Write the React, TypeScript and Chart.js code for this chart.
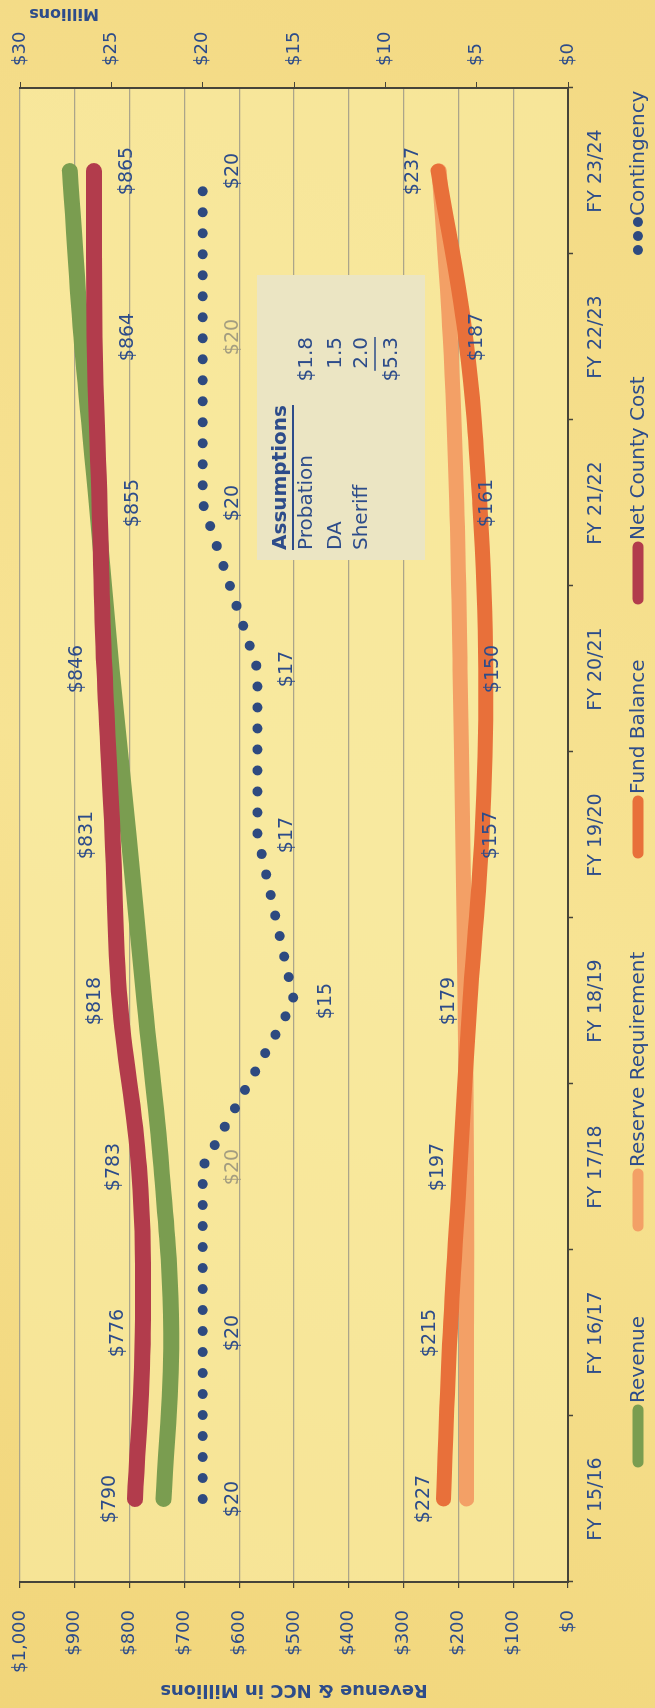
import React, { useEffect, useRef } from 'react';
import { Chart, registerables } from 'chart.js';

Chart.register(...registerables);

// ---------- data ----------
const categories = ['FY 15/16', 'FY 16/17', 'FY 17/18', 'FY 18/19', 'FY 19/20', 'FY 20/21', 'FY 21/22', 'FY 22/23', 'FY 23/24'];
const revenue = [738, 724, 742, 773, 802, 833, 860, 888, 909];
const netCountyCost = [790, 776, 783, 818, 831, 846, 855, 864, 865];
const fundBalance = [227, 215, 197, 179, 157, 150, 161, 187, 237];
const reserveRequirement = [185, 185, 185, 188, 192, 197, 203, 215, 235];
const contingency = [20, 20, 20, 15, 17, 17, 20, 20, 20];

const leftAxisMax = 1000;
const leftAxisStep = 100;
const rightAxisMax = 30;
const rightAxisStep = 5;

const leftAxisTitle = 'Revenue & NCC in Millions';
const rightAxisTitle = 'Millions';

const assumptionsTitle = 'Assumptions';
const assumptionNames = ['Probation', 'DA', 'Sheriff'];
const assumptionAmounts = ['$1.8', '1.5', '2.0'];
const assumptionTotal = '$5.3';

// ---------- style ----------
const W = 1708;
const H = 655;
const FONT = "'DejaVu Sans', sans-serif";
const NAVY = '#2d4c8a';
const GREEN = '#7a9d50';
const RED = '#b23c4c';
const DARK_ORANGE = '#e8703a';
const LIGHT_ORANGE = '#f3a066';
const DOTS = '#2e4a80';
const AXIS = '#46443a';
const GRID = '#aba58a';
const FADED = '#a39d80';

const nccOffsets = [-25, -25, -25, -25, -26, -27, 34, 34, 33];
const fbOffsets = [-20, -20, -22, -21, 9, 7, 7, 12, -25];
const contOffsets = [30, 30, 30, 32, 30, 30, 30, 30, 30];
const contColors = [NAVY, NAVY, FADED, NAVY, NAVY, NAVY, NAVY, FADED, NAVY];

const legendItems = [
  { label: 'Revenue', color: GREEN, x: 241, kind: 'line' },
  { label: 'Reserve Requirement', color: LIGHT_ORANGE, x: 477, kind: 'line' },
  { label: 'Fund Balance', color: DARK_ORANGE, x: 850, kind: 'line' },
  { label: 'Net County Cost', color: RED, x: 1104, kind: 'line' },
  { label: 'Contingency', color: DOTS, x: 1452, kind: 'dots' },
];

const backgroundPlugin = {
  id: 'paper',
  beforeDraw(chart: any) {
    const { ctx, chartArea } = chart;
    ctx.save();
    const g = ctx.createLinearGradient(0, 0, W, H);
    g.addColorStop(0, '#f1d57a');
    g.addColorStop(0.5, '#f7e393');
    g.addColorStop(1, '#f3d983');
    ctx.fillStyle = g;
    ctx.fillRect(0, 0, W, H);
    ctx.fillStyle = 'rgba(250, 238, 170, 0.55)';
    ctx.fillRect(chartArea.left, chartArea.top, chartArea.right - chartArea.left, chartArea.bottom - chartArea.top);
    ctx.restore();
  },
};

function drawLabels(chart: any, dsIndex: number, values: number[], offsets: number[], colors: string[] | null, fmt: (v: number) => string) {
  const ctx = chart.ctx;
  const meta = chart.getDatasetMeta(dsIndex);
  ctx.save();
  ctx.font = `19px ${FONT}`;
  ctx.textAlign = 'center';
  ctx.textBaseline = 'middle';
  meta.data.forEach((pt: any, i: number) => {
    ctx.fillStyle = colors ? colors[i] : NAVY;
    ctx.fillText(fmt(values[i]), pt.x, pt.y + offsets[i]);
  });
  ctx.restore();
}

const overlayPlugin = {
  id: 'overlay',
  afterDatasetsDraw(chart: any) {
    drawLabels(chart, 3, netCountyCost, nccOffsets, null, (v) => '$' + v);
    drawLabels(chart, 2, fundBalance, fbOffsets, null, (v) => '$' + v);
    drawLabels(chart, 4, contingency, contOffsets, contColors, (v) => '$' + v);
  },
  afterDraw(chart: any) {
    const ctx = chart.ctx;
    const area = chart.chartArea;
    ctx.save();
    // axis titles
    ctx.fillStyle = NAVY;
    ctx.textAlign = 'center';
    ctx.textBaseline = 'middle';
    ctx.save();
    ctx.font = `bold 18px ${FONT}`;
    ctx.translate(18, (area.top + area.bottom) / 2);
    ctx.rotate(-Math.PI / 2);
    ctx.fillText(leftAxisTitle, 0, 0);
    ctx.restore();
    ctx.save();
    ctx.font = `bold 16px ${FONT}`;
    ctx.translate(1695, 64);
    ctx.rotate(-Math.PI / 2);
    ctx.fillText(rightAxisTitle, 0, 0);
    ctx.restore();

    // assumptions box
    ctx.fillStyle = '#ebe5c3';
    ctx.fillRect(1148, 257, 285, 168);
    ctx.fillStyle = NAVY;
    ctx.textAlign = 'left';
    ctx.font = `bold 20px ${FONT}`;
    ctx.fillText(assumptionsTitle, 1158, 281);
    const tw = ctx.measureText(assumptionsTitle).width;
    ctx.strokeStyle = NAVY;
    ctx.lineWidth = 2;
    ctx.beginPath();
    ctx.moveTo(1158, 293);
    ctx.lineTo(1158 + tw, 293);
    ctx.stroke();
    ctx.font = `20px ${FONT}`;
    const rows = [307, 336, 362];
    assumptionNames.forEach((n, i) => {
      ctx.textAlign = 'left';
      ctx.fillText(n, 1158, rows[i]);
      ctx.textAlign = 'right';
      ctx.fillText(assumptionAmounts[i], 1371, rows[i]);
    });
    const uw = ctx.measureText(assumptionAmounts[2]).width;
    ctx.lineWidth = 1.5;
    ctx.beginPath();
    ctx.moveTo(1371 - uw - 2, 375);
    ctx.lineTo(1371, 375);
    ctx.stroke();
    ctx.textAlign = 'right';
    ctx.fillText(assumptionTotal, 1371, 392);

    // legend
    const ly = 638;
    ctx.font = `20px ${FONT}`;
    ctx.textAlign = 'left';
    ctx.textBaseline = 'middle';
    legendItems.forEach((it) => {
      let end = it.x;
      if (it.kind === 'line') {
        ctx.strokeStyle = it.color;
        ctx.lineWidth = 11;
        ctx.lineCap = 'round';
        ctx.beginPath();
        ctx.moveTo(it.x + 5, ly);
        ctx.lineTo(it.x + 57, ly);
        ctx.stroke();
        end = it.x + 64;
      } else {
        ctx.fillStyle = it.color;
        for (let k = 0; k < 3; k++) {
          ctx.beginPath();
          ctx.arc(it.x + 6 + k * 14, ly, 5, 0, Math.PI * 2);
          ctx.fill();
        }
        end = it.x + 40;
      }
      ctx.fillStyle = NAVY;
      ctx.fillText(it.label, end, ly + 1);
    });
    ctx.restore();
  },
};

export default function App() {
  const canvasRef = useRef<HTMLCanvasElement | null>(null);

  useEffect(() => {
    if (!canvasRef.current) return;
    const common = { pointRadius: 0, pointHoverRadius: 0, fill: false, borderCapStyle: 'round', borderJoinStyle: 'round' };
    const chart = new Chart(canvasRef.current, {
      type: 'line',
      data: {
        labels: categories,
        datasets: [
          { ...common, label: 'Revenue', data: revenue, borderColor: GREEN, borderWidth: 16, tension: 0.4, yAxisID: 'y', order: 2 },
          { ...common, label: 'Reserve Requirement', data: reserveRequirement, borderColor: LIGHT_ORANGE, borderWidth: 15, tension: 0.4, yAxisID: 'y', order: 4 },
          { ...common, label: 'Fund Balance', data: fundBalance, borderColor: DARK_ORANGE, borderWidth: 15, tension: 0.4, yAxisID: 'y', order: 3 },
          { ...common, label: 'Net County Cost', data: netCountyCost, borderColor: RED, borderWidth: 16, tension: 0.4, yAxisID: 'y', order: 1 },
          { ...common, label: 'Contingency', data: contingency, borderColor: DOTS, borderWidth: 10, borderDash: [0, 21], tension: 0, yAxisID: 'y1', order: 0 },
        ] as any,
      },
      options: {
        responsive: false,
        animation: false,
        devicePixelRatio: 1,
        layout: { padding: { top: 20, left: 0, right: 0, bottom: 0 } },
        plugins: { legend: { display: false }, tooltip: { enabled: false }, title: { display: false } },
        scales: {
          x: {
            type: 'category',
            offset: true,
            grid: { offset: true, drawOnChartArea: false, drawTicks: true, tickLength: 5, tickColor: AXIS, tickWidth: 1.5 },
            border: { display: true, color: AXIS, width: 2 },
            ticks: { color: NAVY, font: { size: 19, family: FONT }, padding: 12, maxRotation: 0, minRotation: 0, autoSkip: false },
            afterFit: (s: any) => { s.height = 87; s.paddingLeft = 0; s.paddingRight = 0; },
          },
          y: {
            position: 'left',
            min: 0,
            max: leftAxisMax,
            ticks: { stepSize: leftAxisStep, color: NAVY, font: { size: 18, family: FONT }, padding: 22, callback: (v: any) => '$' + Number(v).toLocaleString('en-US') },
            grid: { color: GRID, lineWidth: 1.2, tickLength: 6, tickColor: AXIS, drawTicks: true },
            border: { display: true, color: AXIS, width: 2 },
            afterFit: (s: any) => { s.width = 126; s.paddingTop = 0; s.paddingBottom = 0; },
          },
          y1: {
            position: 'right',
            min: 0,
            max: rightAxisMax,
            ticks: { stepSize: rightAxisStep, color: NAVY, font: { size: 18, family: FONT }, padding: 16, callback: (v: any) => '$' + v },
            grid: { drawOnChartArea: false, tickLength: 6, tickColor: AXIS, drawTicks: true },
            border: { display: true, color: AXIS, width: 2 },
            afterFit: (s: any) => { s.width = 88; s.paddingTop = 0; s.paddingBottom = 0; },
          },
        },
      } as any,
      plugins: [backgroundPlugin, overlayPlugin],
    });
    return () => chart.destroy();
  }, []);

  return (
    <div style={{ position: 'absolute', left: 0, top: 0, width: 655, height: 1708, overflow: 'hidden', background: '#f4de8c' }}>
      <div
        style={{
          position: 'absolute',
          left: 0,
          top: 0,
          width: W,
          height: H,
          transformOrigin: '0 0',
          transform: `translate(0px, ${W}px) rotate(-90deg)`,
        }}
      >
        <canvas ref={canvasRef} width={W} height={H} style={{ display: 'block', width: W, height: H }} />
      </div>
    </div>
  );
}
